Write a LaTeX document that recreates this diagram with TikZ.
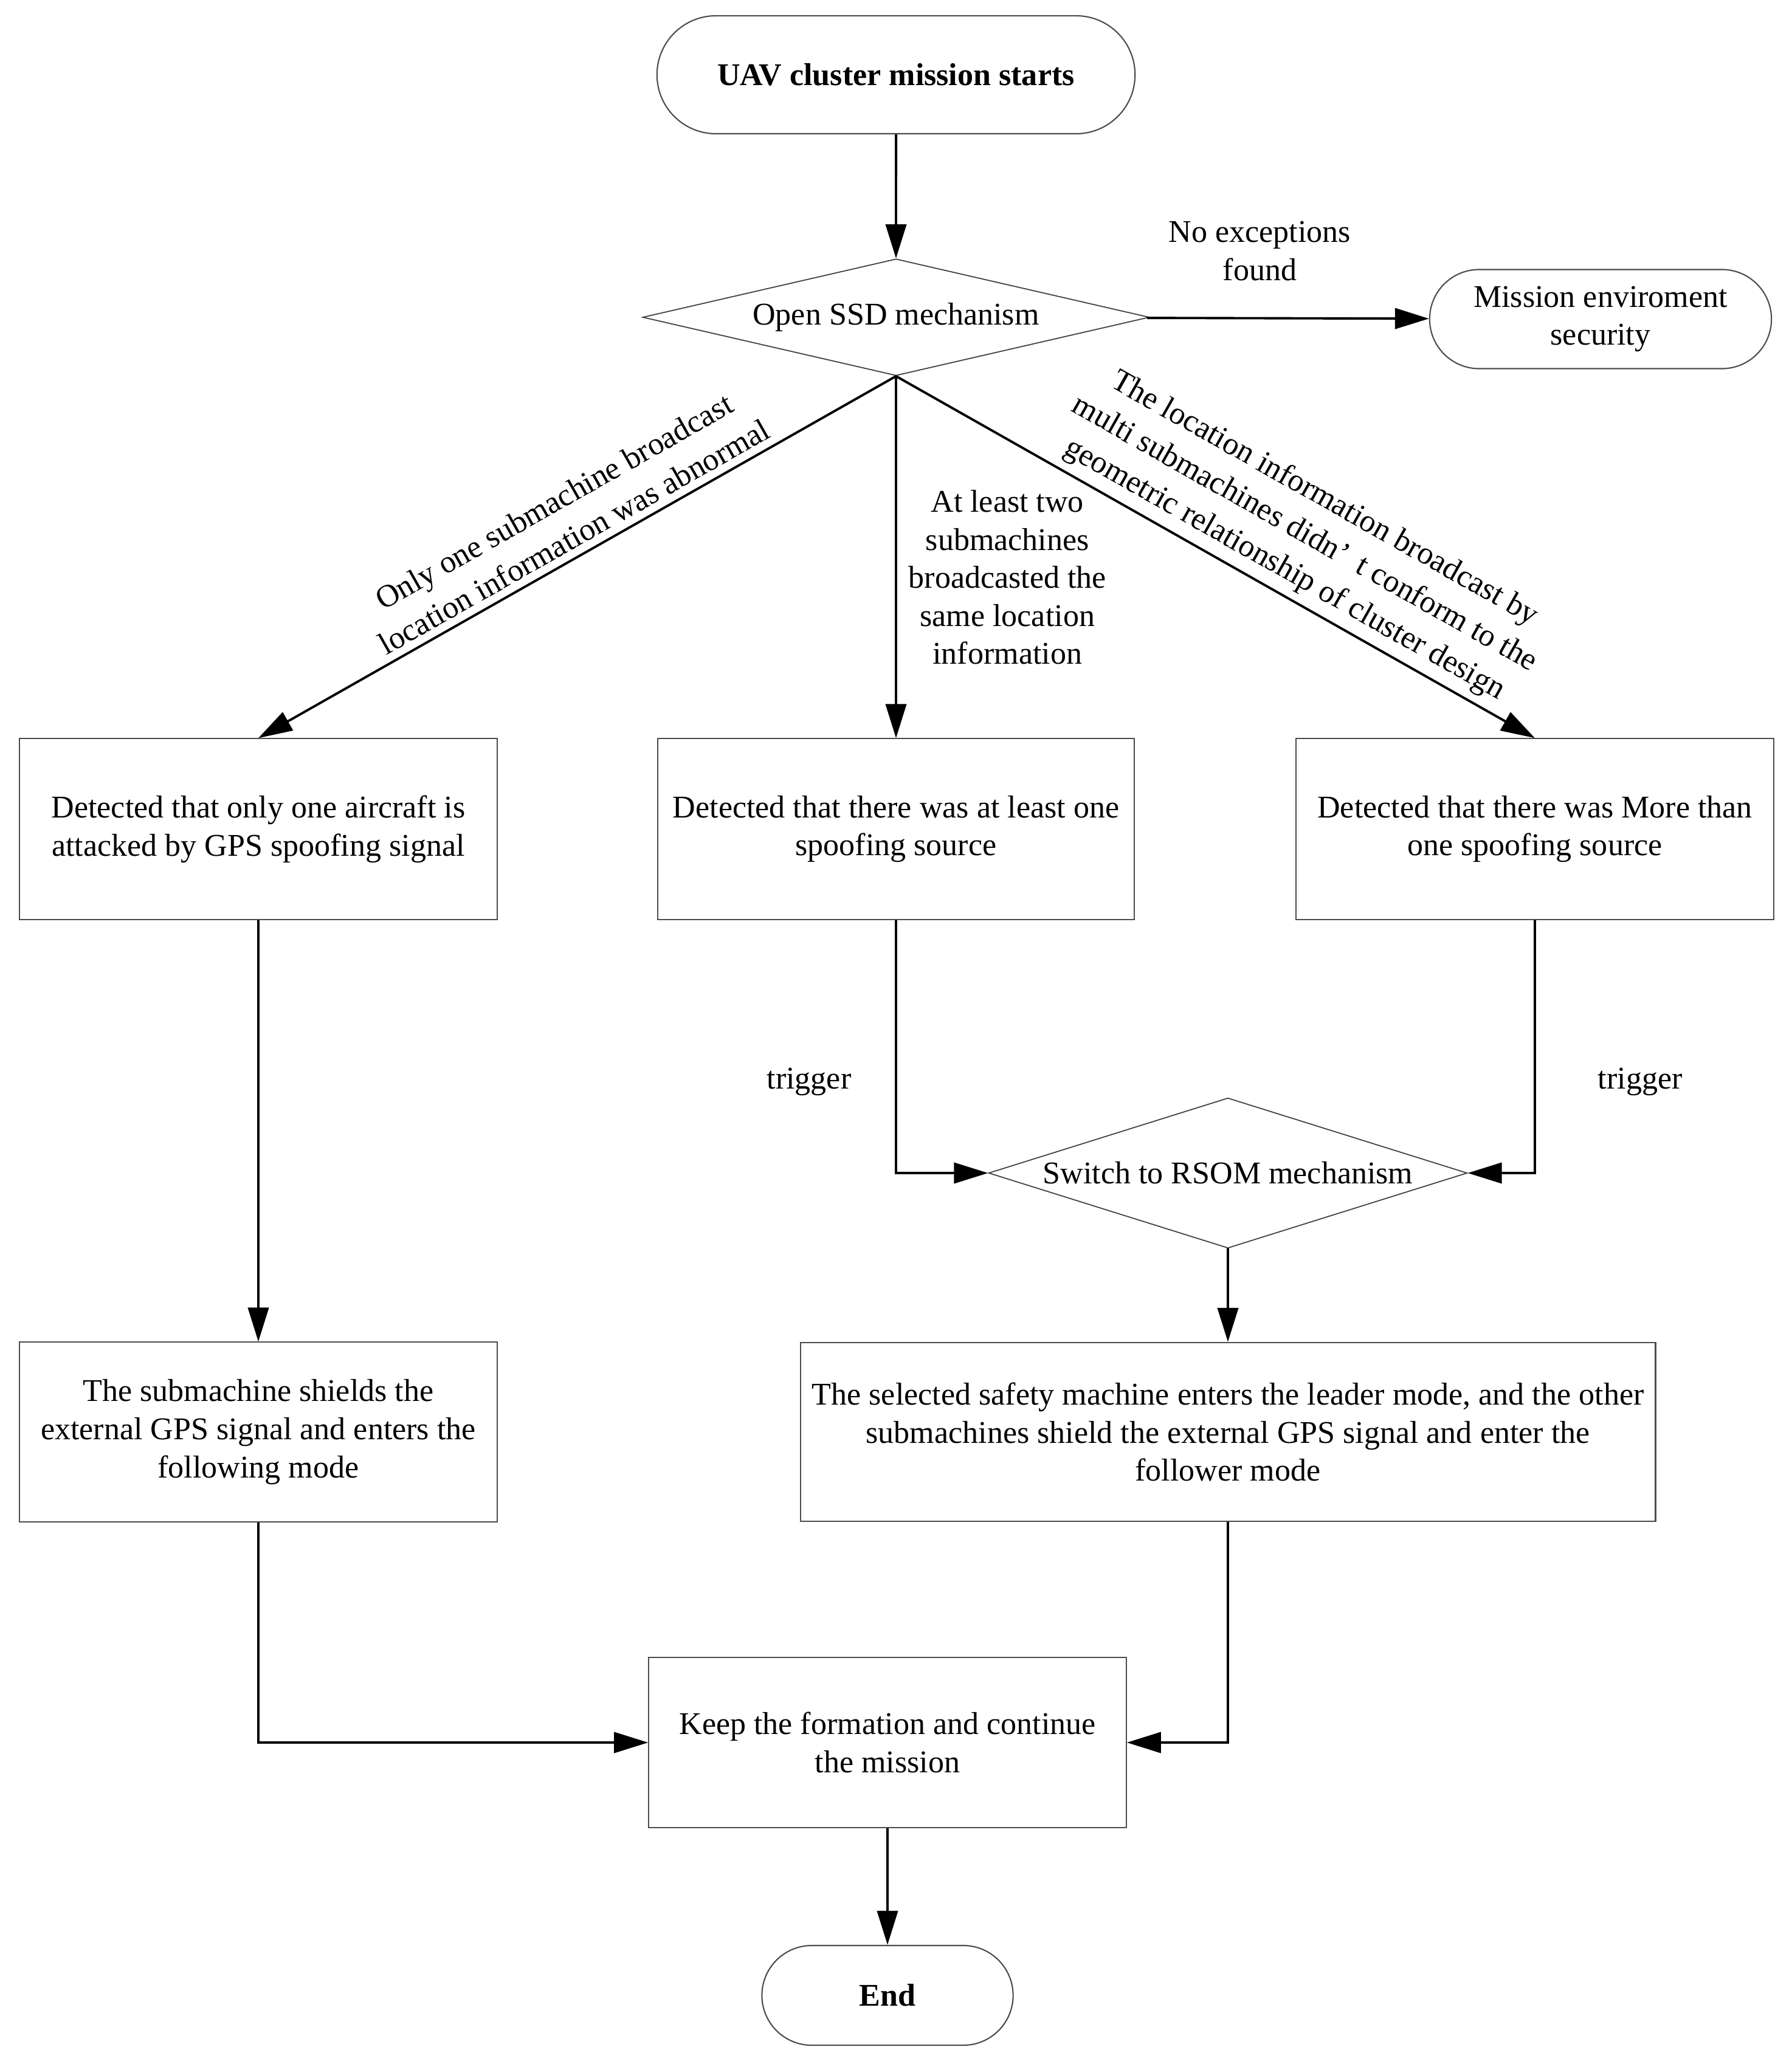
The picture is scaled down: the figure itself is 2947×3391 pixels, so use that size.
\documentclass[tikz,border=0pt]{standalone}
\usepackage{fontspec}
\setmainfont{Liberation Serif}
\usetikzlibrary{shapes.geometric,shapes.misc,arrows.meta}
\tikzset{
	term/.style={rounded rectangle, draw=black!70, line width=0.6pt, inner sep=0pt, align=center},
	box/.style={rectangle, draw=black!70, line width=0.6pt, inner sep=0pt, align=center},
	cond/.style={diamond, draw=black!75, line width=0.5pt, inner sep=0pt},
	flow/.style={->, line width=1.1pt}
}
\begin{document}
\begin{tikzpicture}[x=0.01cm, y=-0.01cm, >={Triangle[length=0.56cm,width=0.34cm]},
	every node/.style={font=\fontsize{14.8pt}{17.8pt}\selectfont}]
	\useasboundingbox (0,0) rectangle (2947,3391);
	\node[term, minimum width=7.86cm, minimum height=1.94cm] (start) at (1474,123) {\bfseries UAV cluster mission starts};
	\node[cond, minimum width=8.33cm, minimum height=1.92cm, aspect=4.3] (ssd) at (1474,522) {Open SSD mechanism};
	\node[term, minimum width=5.62cm, minimum height=1.63cm] (safe) at (2633,525) {Mission enviroment\\security};
	\node[box, minimum width=7.86cm, minimum height=2.97cm] (only) at (425,1364) {Detected that only one aircraft is\\attacked by GPS spoofing signal};
	\node[box, minimum width=7.84cm, minimum height=2.97cm] (least) at (1474,1364) {Detected that there was at least one\\spoofing source};
	\node[box, minimum width=7.86cm, minimum height=2.97cm] (more) at (2525,1364) {Detected that there was More than\\one spoofing source};
	\node[cond, minimum width=7.87cm, minimum height=2.47cm, aspect=3.2] (rsom) at (2020,1930) {Switch to RSOM mechanism};
	\node[box, minimum width=7.86cm, minimum height=2.95cm] (follow) at (425,2356) {The submachine shields the\\external GPS signal and enters the\\following mode};
	\node[box, minimum width=14.06cm, minimum height=2.94cm] (leader) at (2020,2356) {The selected safety machine enters the leader mode, and the other\\submachines shield the external GPS signal and enter the\\follower mode};
	\node[box, minimum width=7.85cm, minimum height=2.8cm] (keep) at (1460,2867) {Keep the formation and continue\\the mission};
	\node[term, minimum width=4.13cm, minimum height=1.64cm] (end) at (1460,3283) {\bfseries End};
	\draw[flow] (start) -- (ssd);
	\draw[flow] (ssd) -- node[above=0.48cm, pos=0.4, align=center] (nolab) {No exceptions\\found} (safe);
	\draw[flow] (ssd.south) -- node[sloped, above, pos=0.49, align=center, font=\fontsize{14.8pt}{19pt}\selectfont] (onelab) {Only one submachine broadcast\\location information was abnormal} (only.north);
	\draw[flow] (ssd.south) -- node[right=0.07cm, pos=0.556, align=center] (twolab) {At least two\\submachines\\broadcasted the\\same location\\information} (least);
	\draw[flow] (ssd.south) -- node[sloped, above, pos=0.59, align=center, font=\fontsize{14.8pt}{19pt}\selectfont] (multilab) {The location information broadcast by\\multi submachines didn’\, t conform to the\\geometric relationship of cluster design} (more.north);
	\draw[flow] (least) |- node[left=0.6cm, pos=0.32] (trigl) {trigger} (rsom);
	\draw[flow] (more) |- node[right=0.9cm, pos=0.32] (trigr) {trigger} (rsom);
	\draw[flow] (rsom) -- (leader);
	\draw[flow] (only) -- (follow);
	\draw[flow] (follow) |- (keep);
	\draw[flow] (leader) |- (keep);
	\draw[flow] (keep) -- (end);
\end{tikzpicture}
\end{document}
